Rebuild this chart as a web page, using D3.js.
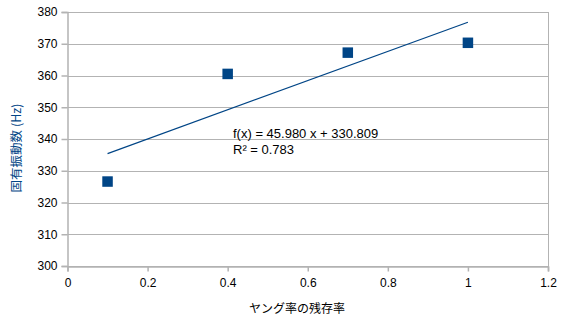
<!DOCTYPE html>
<html><head><meta charset="utf-8">
<script src="https://cdn.jsdelivr.net/npm/d3@7"></script>
<style>body{margin:0;background:#fff}svg{display:block;font-family:"Liberation Sans",Arial,sans-serif}</style>
</head><body><svg id="c" width="567" height="323"></svg>
<script>
const xValues = [0.1, 0.4, 0.7, 1.0];
const yValues = [326.6, 360.5, 367.2, 370.3];
const xTicks = [0, 0.2, 0.4, 0.6, 0.8, 1, 1.2];
const yTicks = [300, 310, 320, 330, 340, 350, 360, 370, 380];
const trendSlope = 45.980, trendIntercept = 330.809;
const eqLines = ["f(x) = 45.980 x + 330.809", "R² = 0.783"];
const xTitle = "ヤング率の残存率";
const yTitle = "固有振動数 (Hz)";

const svg = d3.select("#c");
const L = 67.5, R = 548, T = 12, B = 266;
const x = d3.scaleLinear().domain([0, 1.2]).range([L, R]);
const y = d3.scaleLinear().domain([300, 380]).range([B, T]);
const grid = "#b3b3b3";

svg.append("g").selectAll("line").data(yTicks).join("line")
  .attr("x1", L).attr("x2", R).attr("y1", d => Math.round(y(d)) + 0.5).attr("y2", d => Math.round(y(d)) + 0.5)
  .attr("stroke", grid).attr("stroke-width", 1);
svg.append("line").attr("x1", R + 0.5).attr("x2", R + 0.5).attr("y1", T).attr("y2", B + 5).attr("stroke", grid);

const yAxis = svg.append("g").attr("transform", `translate(${L},0)`)
  .call(d3.axisLeft(y).tickValues(yTicks).tickSize(6).tickPadding(4).tickFormat(d3.format("d")));
const xAxis = svg.append("g").attr("transform", `translate(0,${B + 0.5})`)
  .call(d3.axisBottom(x).tickValues(xTicks).tickSize(5).tickPadding(7).tickFormat(d => String(d)));
[yAxis, xAxis].forEach(a => {
  a.select(".domain").attr("stroke", grid).attr("stroke-width", 1.5);
  a.selectAll(".tick line").attr("stroke", grid).attr("stroke-width", 1.5);
  a.selectAll("text").attr("fill", "#000").attr("font-size", 12).attr("font-family", "Liberation Sans, Arial, sans-serif");
});

const x0 = d3.min(xValues), x1 = d3.max(xValues);
svg.append("line")
  .attr("x1", x(x0)).attr("y1", y(trendIntercept + trendSlope * x0))
  .attr("x2", x(x1)).attr("y2", y(trendIntercept + trendSlope * x1))
  .attr("stroke", "#004586").attr("stroke-width", 1.2);

const s = 10.5;
svg.append("g").selectAll("rect").data(xValues).join("rect")
  .attr("x", (d) => x(d) - s / 2).attr("y", (d, i) => y(yValues[i]) - s / 2)
  .attr("width", s).attr("height", s).attr("fill", "#004586");

svg.append("g").selectAll("text").data(eqLines).join("text")
  .attr("x", 233).attr("y", (d, i) => 138 + i * 16)
  .attr("font-size", 13).attr("fill", "#000").text(d => d);

svg.append("text").attr("x", 297).attr("y", 313).attr("text-anchor", "middle")
  .attr("font-family", "'Noto Sans CJK JP', sans-serif").attr("font-size", 12).attr("fill", "#000").text(xTitle);
svg.append("text").attr("transform", "translate(21,148) rotate(-90)").attr("text-anchor", "middle")
  .attr("font-family", "'Noto Sans CJK JP', sans-serif").attr("font-size", 12.5).attr("fill", "#004586").text(yTitle);
</script></body></html>
